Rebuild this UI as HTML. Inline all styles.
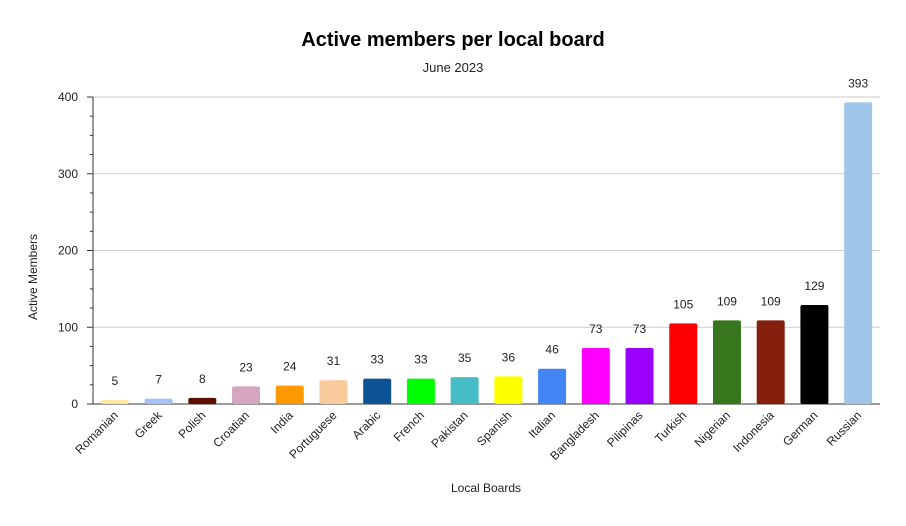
<!DOCTYPE html>
<html><head><meta charset="utf-8"><style>
body{margin:0;background:#fff;font-family:"Liberation Sans",Arial,sans-serif}
svg text{font-family:"Liberation Sans",Arial,sans-serif}
</style></head><body>
<svg id="chart" width="906" height="521" viewBox="0 0 906 521" xmlns="http://www.w3.org/2000/svg">
<rect width="906" height="521" fill="#fff"/>
<text x="453" y="46" text-anchor="middle" font-size="20" font-weight="bold" fill="#000">Active members per local board</text>
<text x="453" y="72" text-anchor="middle" font-size="13" fill="#222">June 2023</text>
<text transform="translate(37,277) rotate(-90)" text-anchor="middle" font-size="12" fill="#222">Active Members</text>
<text x="486" y="492" text-anchor="middle" font-size="12" fill="#222">Local Boards</text>
<g id="grid"></g><g id="bars"></g><g id="labels"></g>
</svg>
<script>
const categories=["Romanian","Greek","Polish","Croatian","India","Portuguese","Arabic","French","Pakistan","Spanish","Italian","Bangladesh","Pilipinas","Turkish","Nigerian","Indonesia","German","Russian"];
const values=[5,7,8,23,24,31,33,33,35,36,46,73,73,105,109,109,129,393];
const colors=["#ffe599","#a4c2f4","#5b0f00","#d5a6bd","#ff9900","#f9cb9c","#0b5394","#00ff00","#46bdc6","#ffff00","#4285f4","#ff00ff","#9900ff","#ff0000","#38761d","#85200c","#000000","#9fc5e8"];
const yTicks=[0,100,200,300,400];
const NS="http://www.w3.org/2000/svg";
const x0=93,x1=880,yBase=404,yTop=97,yMax=400;
const y=v=>yBase-(v/yMax)*(yBase-yTop);
const step=(x1-x0)/categories.length;
const xc=i=>x0+step*(i+0.5);
function mk(t,a,p){const e=document.createElementNS(NS,t);for(const k in a)e.setAttribute(k,a[k]);p.appendChild(e);return e;}
const grid=document.getElementById('grid'),bars=document.getElementById('bars'),labels=document.getElementById('labels');
yTicks.forEach(t=>{
  const l=mk('line',{x1:x0,x2:x1,y1:y(t),y2:y(t),stroke:t===0?'#333':'#ccc','stroke-width':1},grid);
  
  
  const tx=mk('text',{x:78,y:y(t)+4,'text-anchor':'end','font-size':12,fill:'#222'},grid);
  tx.textContent=t;
  
  
});
for(let v=0;v<=yMax;v+=25){
  const tk=mk('line',{x1:v%100===0?87:90,x2:x0,y1:y(v),y2:y(v),stroke:'#333','stroke-width':1},grid);
  
  
}
const ax=mk('line',{x1:x0,x2:x0,y1:yTop,y2:yBase,stroke:'#333','stroke-width':1},grid);


const bw=28;
categories.forEach((c,i)=>{
  const v=values[i];
  const r=mk('rect',{x:xc(i)-bw/2,y:y(v),width:bw,height:yBase-y(v),fill:colors[i],rx:2},bars);
  
  
  const vl=mk('text',{x:xc(i),y:y(v)-15,'text-anchor':'middle','font-size':12,fill:'#222'},labels);
  vl.textContent=v;
  
  
  const cl=mk('text',{transform:`translate(${xc(i)+4},${yBase+12}) rotate(-45)`,'text-anchor':'end','font-size':12,fill:'#222'},labels);
  cl.textContent=c;
  
  
});
</script>
</body></html>
